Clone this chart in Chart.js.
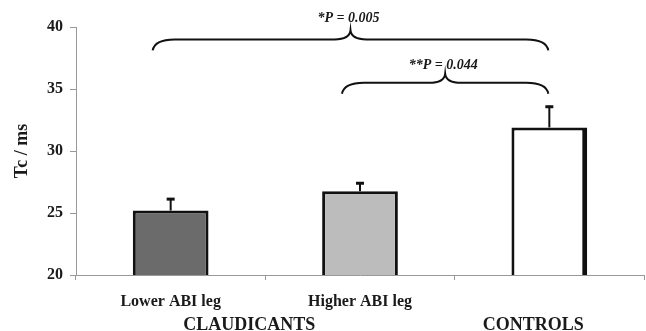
<!DOCTYPE html>
<html>
<head>
<meta charset="utf-8">
<script src="https://cdn.jsdelivr.net/npm/chart.js@4"></script>
<style>
  body { margin: 0; background: #fff; }
  #wrap { width: 646px; height: 331px; }
</style>
</head>
<body>
<div id="wrap"><canvas id="tcChart" width="646" height="331"></canvas></div>
<script>
// Tc por grupo (media + erro superior)
const categorias = ["Lower ABI leg", "Higher ABI leg", ""];
const tcMedia = [25.2, 26.75, 31.9];
const tcErro = [1.0, 0.73, 1.75];
const coresBarras = ["#6b6b6b", "#bcbcbc", "#ffffff"];

// grupos embaixo do eixo x
const grupos = ["CLAUDICANTS", "CONTROLS"];
const gruposInicio = [0, 2];
const gruposFim = [1, 2];

// comparacoes (chaves)
const compDe = [0, 1];
const compAte = [2, 2];
const compTexto = ["*P = 0.005", "**P = 0.044"];
const compNivel = [39.0, 35.5];

const serif = "'Liberation Serif', 'DejaVu Serif', serif";
const corTexto = "#1a1a1a";

const errorBarsPlugin = {
    id: "errorBars",
    afterDatasetsDraw(chart) {
        const ctx = chart.ctx;
        const y = chart.scales.y;
        const meta = chart.getDatasetMeta(0);
        ctx.save();
        ctx.strokeStyle = "#111";
        ctx.lineWidth = 2;
        meta.data.forEach((bar, i) => {
            const topo = y.getPixelForValue(tcMedia[i] + tcErro[i]);
            ctx.beginPath();
            ctx.moveTo(bar.x, bar.y);
            ctx.lineTo(bar.x, topo);
            ctx.stroke();
            ctx.lineWidth = 3;
            ctx.beginPath();
            ctx.moveTo(bar.x - 4, topo + 1);
            ctx.lineTo(bar.x + 4, topo + 1);
            ctx.stroke();
            ctx.lineWidth = 2;
        });
        ctx.restore();
    }
};

function desenhaChave(ctx, x0, x1, yLinha) {
    const xm = (x0 + x1) / 2;
    const yFim = yLinha + 11;
    const yPonta = yLinha - 9;
    const r = 22;
    const rm = 16;
    ctx.beginPath();
    ctx.moveTo(x0, yFim);
    ctx.quadraticCurveTo(x0 + 2, yLinha, x0 + r, yLinha);
    ctx.lineTo(xm - rm, yLinha);
    ctx.quadraticCurveTo(xm - 1, yLinha, xm, yPonta);
    ctx.quadraticCurveTo(xm + 1, yLinha, xm + rm, yLinha);
    ctx.lineTo(x1 - r, yLinha);
    ctx.quadraticCurveTo(x1 - 2, yLinha, x1, yFim);
    ctx.stroke();
    return { xm, yPonta };
}

const anotacoesPlugin = {
    id: "anotacoes",
    afterDraw(chart) {
        const ctx = chart.ctx;
        const x = chart.scales.x;
        const y = chart.scales.y;
        ctx.save();
        ctx.strokeStyle = "#111";
        ctx.lineWidth = 2;
        ctx.fillStyle = corTexto;
        compDe.forEach((de, i) => {
            const x0 = x.getPixelForValue(de) - 18;
            const x1 = x.getPixelForValue(compAte[i]) - 1;
            const p = desenhaChave(ctx, x0, x1, y.getPixelForValue(compNivel[i]));
            ctx.font = "italic bold 14px " + serif;
            ctx.textAlign = "center";
            ctx.textBaseline = "alphabetic";
            ctx.fillText(compTexto[i], p.xm - 2, p.yPonta - (i === 0 ? 8 : 5));
        });
        // rotulos dos grupos
        ctx.font = "bold 18px " + serif;
        ctx.textAlign = "center";
        ctx.textBaseline = "alphabetic";
        grupos.forEach((g, i) => {
            const c = (x.getPixelForValue(gruposInicio[i]) + x.getPixelForValue(gruposFim[i])) / 2;
            ctx.fillText(g, c - 16, 330);
        });
        ctx.restore();
    }
};

new Chart(document.getElementById("tcChart"), {
    type: "bar",
    data: {
        labels: categorias,
        datasets: [{
            data: tcMedia,
            backgroundColor: coresBarras,
            borderColor: "#111",
            borderWidth: [
                { top: 3, left: 3, right: 3, bottom: 2 },
                { top: 3, left: 3, right: 3, bottom: 2 },
                { top: 3, left: 3, right: 5, bottom: 2 }
            ],
            borderSkipped: false,
            barPercentage: 0.4,
            categoryPercentage: 1.0
        }]
    },
    options: {
        responsive: false,
        devicePixelRatio: 1,
        animation: false,
        layout: { padding: { top: 27, right: 2, left: 0, bottom: 0 } },
        plugins: {
            legend: { display: false },
            tooltip: { enabled: false }
        },
        scales: {
            x: {
                afterFit: (s) => { s.height = 56; },
                border: { color: "#999", width: 1 },
                grid: { drawOnChartArea: false, tickLength: 5, color: "#999" },
                ticks: {
                    color: corTexto,
                    padding: 12,
                    font: { family: serif, size: 16, weight: "bold" }
                }
            },
            y: {
                min: 20,
                max: 40,
                afterFit: (s) => { s.width = 76; },
                border: { color: "#999", width: 1 },
                grid: { drawOnChartArea: false, tickLength: 6, color: "#999" },
                ticks: {
                    stepSize: 5,
                    color: corTexto,
                    padding: 7,
                    font: { family: serif, size: 16, weight: "bold" }
                },
                title: {
                    display: true,
                    text: "Tc / ms",
                    color: corTexto,
                    padding: { top: 12, bottom: 0 },
                    font: { family: serif, size: 18, weight: "bold" }
                }
            }
        }
    },
    plugins: [errorBarsPlugin, anotacoesPlugin]
});
</script>
</body>
</html>
